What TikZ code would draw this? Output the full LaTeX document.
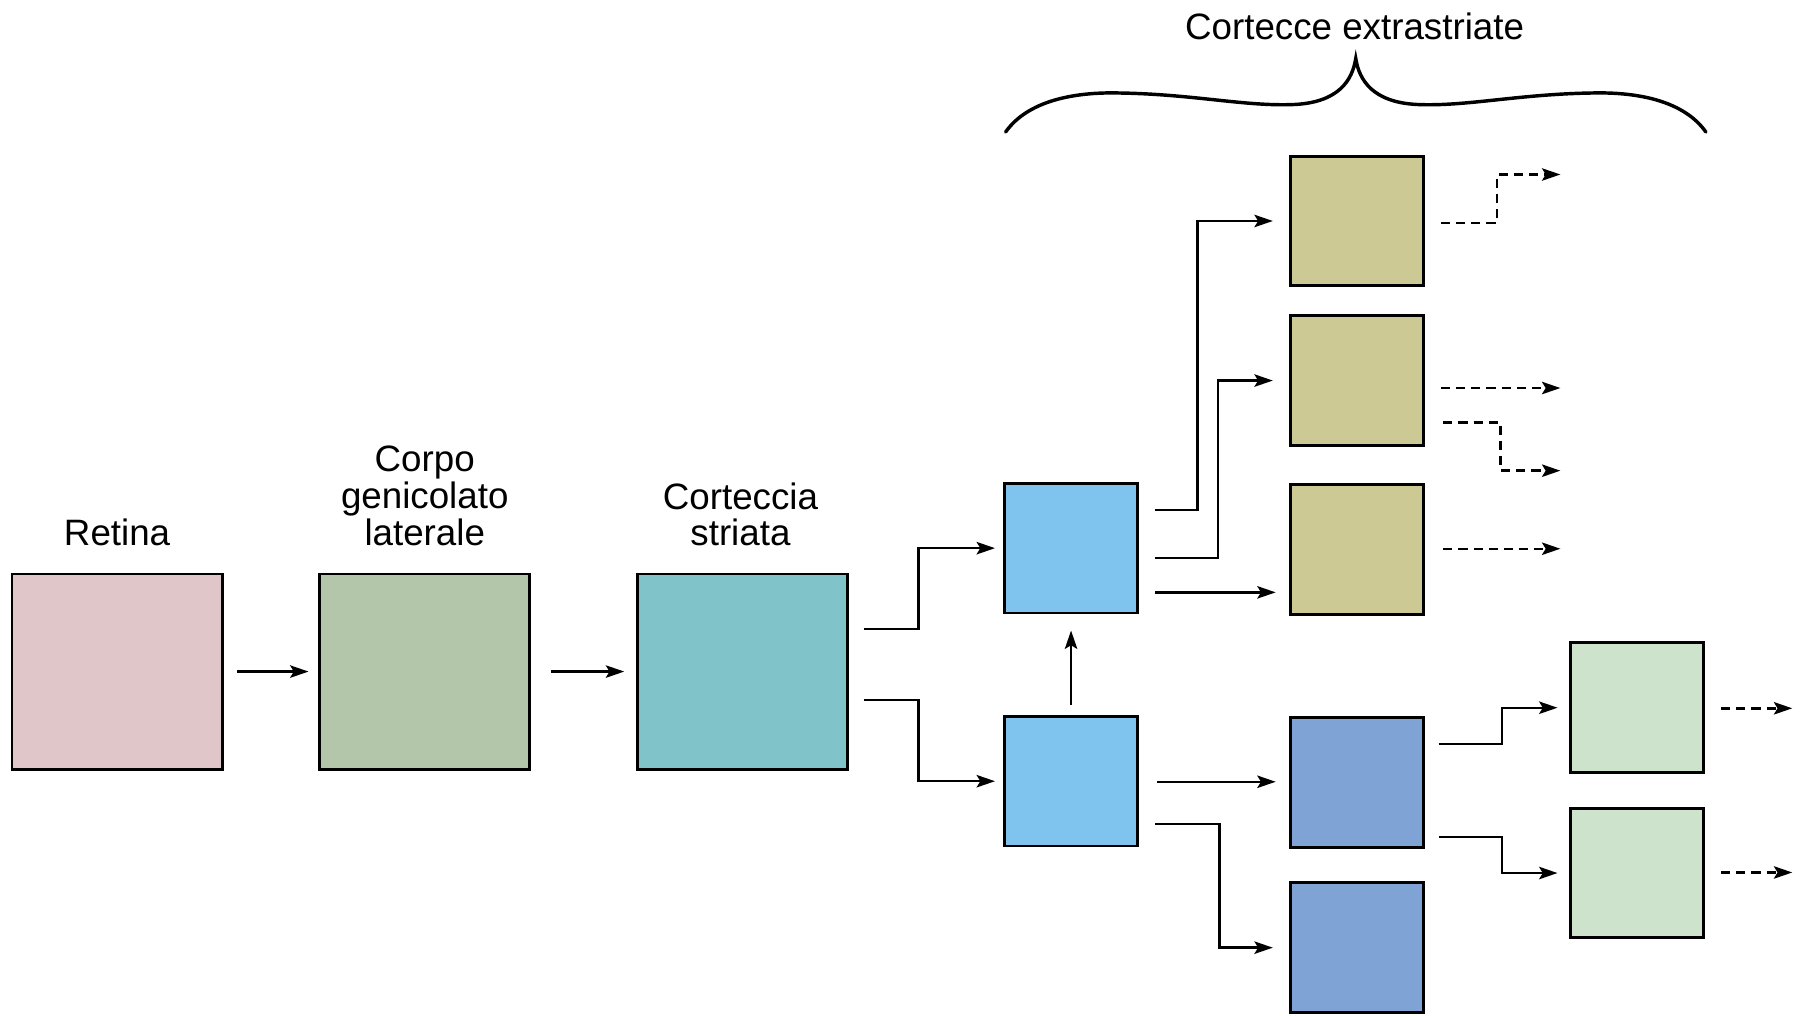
\documentclass[tikz,border=0pt]{standalone}
\usepackage{fontspec}
\setmainfont{Liberation Sans}
\usetikzlibrary{arrows.meta}

\definecolor{cRetina}{HTML}{E0C6C8}
\definecolor{cCGL}{HTML}{B3C6AA}
\definecolor{cStriate}{HTML}{80C3C8}
\definecolor{cBlue}{HTML}{7EC4EE}
\definecolor{cOlive}{HTML}{CCC995}
\definecolor{cDeep}{HTML}{80A3D5}
\definecolor{cMint}{HTML}{CDE3CB}

\tikzset{
  box/.style={draw, line width=1.25pt, inner sep=0pt,
              minimum width=58pt, minimum height=56.5pt},
  bigbox/.style={box, minimum width=91.5pt, minimum height=85pt},
  arr/.style={line width=1.05pt,
              -{Stealth[length=8pt,width=5.4pt,inset=1.6pt]}},
  darr/.style={arr, dash pattern=on 4pt off 2.6pt},
  lbl/.style={font=\fontsize{16}{16}\selectfont, align=center, inner sep=0pt},
  brace/.style={line width=1.5pt, line cap=round}
}

\begin{document}
\begin{tikzpicture}[x=0.5pt, y=-0.5pt]
  \useasboundingbox (0,0) rectangle (1568,885);

  % first stages
  \node[bigbox, fill=cRetina] (ret) at (102,585) {};
  \node[bigbox, fill=cCGL]    (cgl) at (369.5,585) {};
  \node[bigbox, fill=cStriate] (cs) at (646.5,585) {};

  \node[lbl] (tret) at (102,464) {Retina};
  \node[lbl] (tcgl) at (370,432) {Corpo\\genicolato\\laterale};
  \node[lbl] (tcs)  at (645,448) {Corteccia\\striata};

  % extrastriate areas
  \node[box, fill=cBlue] (b1) at (933,477.5) {};
  \node[box, fill=cBlue] (b2) at (933,680.5) {};

  \node[box, fill=cOlive] (o1) at (1182,192.5) {};
  \node[box, fill=cOlive] (o2) at (1182,331.5) {};
  \node[box, fill=cOlive] (o3) at (1182,478.5) {};

  \node[box, fill=cDeep] (db1) at (1182,681.5) {};
  \node[box, fill=cDeep] (db2) at (1182,825.5) {};

  \node[box, fill=cMint] (lg1) at (1426,616.5) {};
  \node[box, fill=cMint] (lg2) at (1426,760.5) {};

  \node[lbl] (text) at (1180,23) {Cortecce extrastriate};

  % curly brace over the extrastriate areas
  \draw[brace] (876,115) .. controls (895,88) and (935,80) .. (975,81)
        .. controls (1040,82) and (1085,93) .. (1128,91)
        .. controls (1166,89) and (1178,70) .. (1181,51)
        .. controls (1184,70) and (1196,89) .. (1234,91)
        .. controls (1277,93) and (1322,82) .. (1387,81)
        .. controls (1427,80) and (1467,88) .. (1486,115);

  % main pathway
  \draw[arr] ([shift={(12,0)}]ret.east) -- ([shift={(-8,0)}]cgl.west);
  \draw[arr] ([shift={(18,0)}]cgl.east) -- ([shift={(-10,0)}]cs.west);

  \draw[arr] ([shift={(13,-37)}]cs.east) -- ++(48,0) |- ([shift={(-7,0)}]b1.west);
  \draw[arr] ([shift={(13,25)}]cs.east) -- ++(48,0) |- ([shift={(-7,0)}]b2.west);

  \draw[arr] ([shift={(0,-9)}]b2.north) -- ([shift={(0,14)}]b1.south);

  \draw[arr] ([shift={(14,-33.5)}]b1.east) -- ++(37,0) |- ([shift={(-14,0)}]o1.west);
  \draw[arr] ([shift={(14,8.5)}]b1.east) -- ++(55,0) |- ([shift={(-14,0)}]o2.west);
  \draw[arr] ([shift={(14,38.5)}]b1.east) -- ++(105,0);

  \draw[arr] ([shift={(16,0.5)}]b2.east) -- ++(103,0);
  \draw[arr] ([shift={(14,37.5)}]b2.east) -- ++(56,0) |- ([shift={(-14,0)}]db2.west);

  \draw[arr] ([shift={(12,-33.5)}]db1.east) -- ++(55,0) |- ([shift={(-10,0)}]lg1.west);
  \draw[arr] ([shift={(12,47.5)}]db1.east) -- ++(55,0) |- ([shift={(-10,0)}]lg2.west);

  % onward projections
  \draw[darr] ([shift={(14,1.5)}]o1.east) -- ++(49,0) -- ++(0,-42) -- ++(55,0);
  \draw[darr] ([shift={(14,6.5)}]o2.east) -- ++(104,0);
  \draw[darr] ([shift={(16,36.5)}]o2.east) -- ++(50,0) -- ++(0,42) -- ++(52,0);
  \draw[darr] ([shift={(16,-0.5)}]o3.east) -- ++(102,0);
  \draw[darr] ([shift={(14,0.5)}]lg1.east) -- ++(62,0);
  \draw[darr] ([shift={(14,-0.5)}]lg2.east) -- ++(62,0);
\end{tikzpicture}
\end{document}
